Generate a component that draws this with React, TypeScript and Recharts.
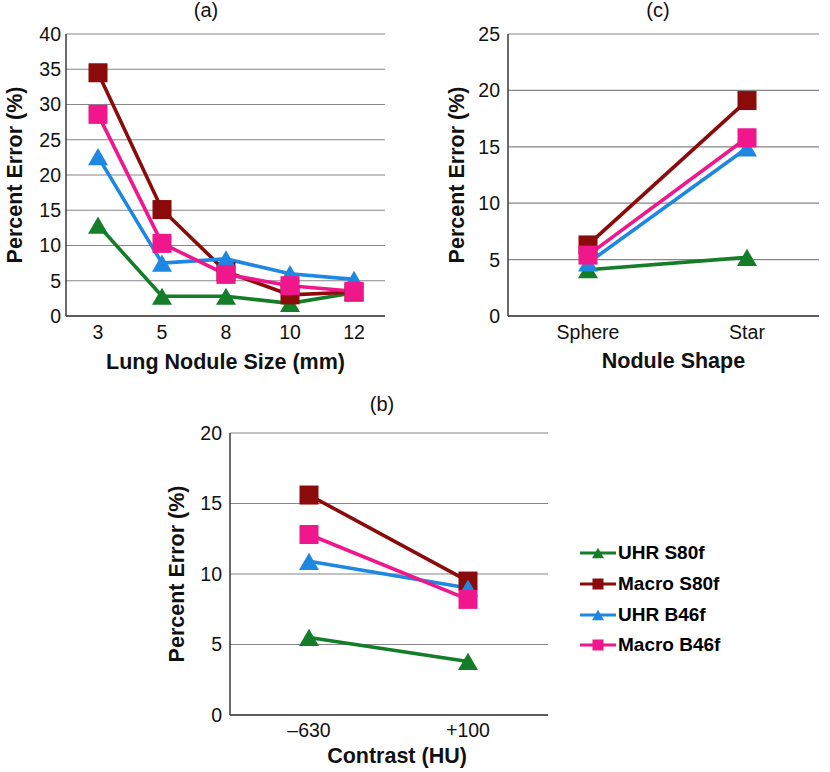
import { LineChart, Line, XAxis, YAxis, CartesianGrid, Legend, Label } from "recharts";

// (a) lung nodule size
const sizes = ["3", "5", "8", "10", "12"];
const sizeUhrS80f = [12.9, 2.8, 2.8, 1.8, 3.3];
const sizeMacroS80f = [34.5, 15.1, 6.3, 3.0, 3.4];
const sizeUhrB46f = [22.6, 7.5, 8.1, 6.0, 5.2];
const sizeMacroB46f = [28.6, 10.3, 5.9, 4.3, 3.5];
const sizeTicks = [0, 5, 10, 15, 20, 25, 30, 35, 40];

// (c) nodule shape
const shapes = ["Sphere", "Star"];
const shapeUhrS80f = [4.1, 5.2];
const shapeMacroS80f = [6.3, 19.1];
const shapeUhrB46f = [4.7, 14.9];
const shapeMacroB46f = [5.4, 15.8];
const shapeTicks = [0, 5, 10, 15, 20, 25];

// (b) contrast
const contrasts = ["\u2013630", "+100"];
const contrastUhrS80f = [5.5, 3.8];
const contrastMacroS80f = [15.6, 9.5];
const contrastUhrB46f = [10.9, 9.0];
const contrastMacroB46f = [12.8, 8.2];
const contrastTicks = [0, 5, 10, 15, 20];

const seriesKeys = ["uhrS80f", "macroS80f", "uhrB46f", "macroB46f"];
const seriesNames = ["UHR S80f", "Macro S80f", "UHR B46f", "Macro B46f"];
const seriesColors = ["#137d27", "#8b0a0a", "#1e87e2", "#ef178b"];
const seriesMarkers = ["triangle", "square", "triangle", "square"];

const FONT = "'Liberation Sans', Arial, Helvetica, sans-serif";
const FRAME = "#3a3a3a";
const GRID = "#868686";

function buildRows(cats: string[], a: number[], b: number[], c: number[], d: number[]) {
  return cats.map((cat, i) => ({ cat, uhrS80f: a[i], macroS80f: b[i], uhrB46f: c[i], macroB46f: d[i] }));
}

const sizeData = buildRows(sizes, sizeUhrS80f, sizeMacroS80f, sizeUhrB46f, sizeMacroB46f);
const shapeData = buildRows(shapes, shapeUhrS80f, shapeMacroS80f, shapeUhrB46f, shapeMacroB46f);
const contrastData = buildRows(contrasts, contrastUhrS80f, contrastMacroS80f, contrastUhrB46f, contrastMacroB46f);

function Marker({ cx, cy, shape, color, size }: any) {
  if (cx == null || cy == null) return null;
  if (shape === "square") {
    return <rect x={cx - size / 2} y={cy - size / 2} width={size} height={size} fill={color} />;
  }
  const h = size * 0.86;
  return (
    <polygon
      points={`${cx},${cy - h / 2} ${cx + size / 2},${cy + h / 2} ${cx - size / 2},${cy + h / 2}`}
      fill={color}
    />
  );
}

// legend keeps the series order (UHR S80f first), not recharts' payload order
function LegendBox() {
  return (
    <div style={{ fontFamily: FONT }}>
      {seriesKeys.map((k, i) => (
        <div key={k} style={{ display: "flex", alignItems: "center", height: 30.7 }}>
          <svg width={37} height={14} style={{ display: "block" }}>
            <line x1={0} y1={7} x2={36} y2={7} stroke={seriesColors[i]} strokeWidth={3} />
            <Marker cx={18} cy={7} shape={seriesMarkers[i]} color={seriesColors[i]} size={seriesMarkers[i] === "square" ? 11 : 12} />
          </svg>
          <span style={{ fontSize: 19, fontWeight: 700, color: "#000", marginLeft: 1 }}>{seriesNames[i]}</span>
        </div>
      ))}
    </div>
  );
}

const tickStyle = { fontSize: 19.5, fill: "#111", fontFamily: FONT };
const titleStyle = { fontSize: 21.5, fontWeight: 700, fill: "#111", fontFamily: FONT, textAnchor: "middle" as const };

function Panel(props: any) {
  const { data, width, height, margin, yWidth, xHeight, yMax, ticks, xPad, xTitle, xTitleOffset, xTitleDx, yTitleOffset, yTickMargin, xTickMargin, legend } = props;
  return (
    <LineChart width={width} height={height} data={data} margin={margin}>
      <CartesianGrid vertical={false} stroke={GRID} strokeWidth={1.2} />
      <XAxis
        dataKey="cat"
        height={xHeight}
        padding={xPad}
        tick={tickStyle}
        tickLine={false}
        tickSize={0}
        tickMargin={xTickMargin}
        axisLine={{ stroke: FRAME, strokeWidth: 1.5 }}
        interval={0}
      >
        <Label value={xTitle} position="insideBottom" offset={xTitleOffset} dx={xTitleDx} style={titleStyle} />
      </XAxis>
      <XAxis xAxisId="frame" orientation="top" dataKey="cat" height={0} tick={false} tickLine={false} axisLine={{ stroke: FRAME, strokeWidth: 1.5 }} />
      <YAxis
        width={yWidth}
        domain={[0, yMax]}
        ticks={ticks}
        tick={tickStyle}
        tickLine={false}
        tickSize={0}
        tickMargin={yTickMargin}
        axisLine={{ stroke: FRAME, strokeWidth: 1.5 }}
        allowDataOverflow
      >
        <Label value="Percent Error (%)" angle={-90} position="insideLeft" offset={yTitleOffset} style={titleStyle} />
      </YAxis>
      <YAxis yAxisId="frame" orientation="right" width={0} domain={[0, yMax]} tick={false} tickLine={false} axisLine={{ stroke: FRAME, strokeWidth: 1.5 }} />
      {seriesKeys.map((k, i) => (
        <Line
          key={k}
          dataKey={k}
          name={seriesNames[i]}
          stroke={seriesColors[i]}
          strokeWidth={3.6}
          isAnimationActive={false}
          dot={(d: any) => (
            <Marker key={`${k}-${d.index}`} cx={d.cx} cy={d.cy} shape={seriesMarkers[i]} color={seriesColors[i]} size={seriesMarkers[i] === "square" ? 19 : 20} />
          )}
          activeDot={false}
        />
      ))}
      {legend && (
        <Legend
          layout="vertical"
          align="center"
          verticalAlign="middle"
          content={<LegendBox />}
          wrapperStyle={{ position: "absolute", left: 430, top: 158, width: 200 }}
        />
      )}
    </LineChart>
  );
}

const panelLabel = (text: string, cx: number, top: number) => (
  <div
    style={{
      position: "absolute",
      left: cx - 30,
      top,
      width: 60,
      textAlign: "center",
      fontFamily: FONT,
      fontSize: 20,
      lineHeight: "20px",
      color: "#111",
    }}
  >
    {text}
  </div>
);

export default function App() {
  return (
    <div style={{ position: "absolute", left: 0, top: 0, width: 830, height: 772, background: "#fff", overflow: "hidden" }}>
      {panelLabel("(a)", 206, 0)}
      {panelLabel("(c)", 658, 0)}
      {panelLabel("(b)", 382, 394)}
      <div style={{ position: "absolute", left: 0, top: 0 }}>
        <Panel
          data={sizeData}
          width={400}
          height={380}
          margin={{ top: 34, right: 15, left: 0, bottom: 0 }}
          yWidth={66}
          xHeight={64}
          yMax={40}
          ticks={sizeTicks}
          xPad={{ left: 32, right: 31 }}
          xTitle="Lung Nodule Size (mm)"
          xTitleOffset={11}
          xTitleDx={0}
          yTitleOffset={14}
          yTickMargin={5}
          xTickMargin={9}
        />
      </div>
      <div style={{ position: "absolute", left: 420, top: 0 }}>
        <Panel
          data={shapeData}
          width={410}
          height={380}
          margin={{ top: 34, right: 11, left: 0, bottom: 0 }}
          yWidth={88}
          xHeight={64}
          yMax={25}
          ticks={shapeTicks}
          xPad={{ left: 80, right: 72 }}
          xTitle="Nodule Shape"
          xTitleOffset={12}
          xTitleDx={10}
          yTitleOffset={36}
          yTickMargin={8}
          xTickMargin={9}
        />
      </div>
      <div style={{ position: "absolute", left: 150, top: 380 }}>
        <Panel
          data={contrastData}
          width={680}
          height={392}
          margin={{ top: 53, right: 282, left: 0, bottom: 0 }}
          yWidth={80}
          xHeight={57}
          yMax={20}
          ticks={contrastTicks}
          xPad={{ left: 79, right: 80 }}
          xTitle="Contrast (HU)"
          xTitleOffset={9}
          xTitleDx={8}
          yTitleOffset={26}
          yTickMargin={8}
          xTickMargin={8}
          legend
        />
      </div>
    </div>
  );
}
